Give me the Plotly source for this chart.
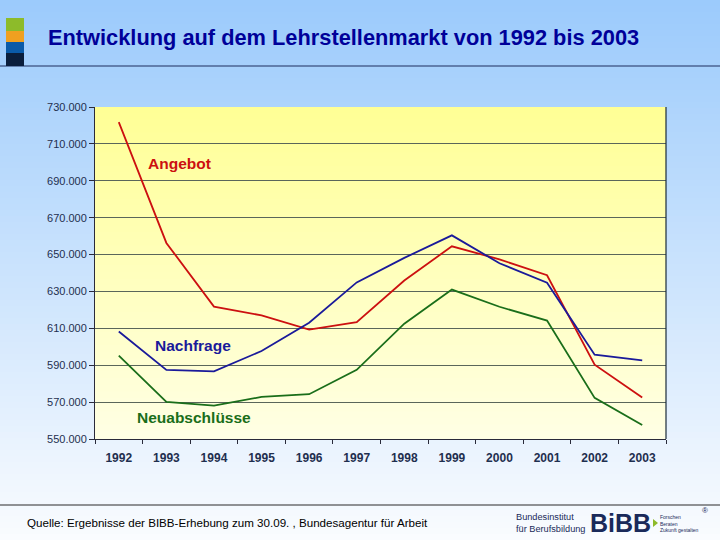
import plotly.graph_objects as go

years = ["1992", "1993", "1994", "1995", "1996", "1997", "1998", "1999", "2000", "2001", "2002", "2003"]
angebot = [721800, 656300, 621800, 617000, 609300, 613400, 635900, 654500, 647400, 638800, 590300, 572500]
nachfrage = [608300, 587500, 586700, 597700, 613000, 634900, 648200, 660400, 645300, 634700, 595700, 592600]
neuabschluesse = [595200, 570100, 568100, 572800, 574300, 587500, 612500, 631000, 621700, 614200, 572300, 557600]

y_ticks = [550000, 570000, 590000, 610000, 630000, 650000, 670000, 690000, 710000, 730000]
y_labels = ["550.000", "570.000", "590.000", "610.000", "630.000", "650.000", "670.000", "690.000", "710.000", "730.000"]

W, H = 720, 540
L, R, T, B = 95, 666, 107, 439


def px(x):
    return (x - L) / (R - L)


def py(y):
    return (B - y) / (B - T)


fig = go.Figure()
fig.add_trace(go.Scatter(x=years, y=angebot, mode="lines", line=dict(color="#CC1010", width=1.8), name="Angebot"))
fig.add_trace(go.Scatter(x=years, y=nachfrage, mode="lines", line=dict(color="#1A1A9A", width=1.8), name="Nachfrage"))
fig.add_trace(go.Scatter(x=years, y=neuabschluesse, mode="lines", line=dict(color="#1A6E1A", width=1.8), name="Neuabschlüsse"))

shapes = []
# slide background gradient (light blue -> white)
n = 90
for i in range(n):
    f = i / (n - 1)
    c0 = (156, 203, 252)
    c1 = (250, 252, 255)
    c = tuple(int(c0[k] + (c1[k] - c0[k]) * f) for k in range(3))
    ya = i * H / n
    yb = (i + 1) * H / n + 0.8
    shapes.append(dict(type="rect", xref="paper", yref="paper", layer="below",
                       x0=px(0), x1=px(W), y0=py(yb), y1=py(ya),
                       fillcolor="rgb(%d,%d,%d)" % c, line=dict(width=0)))
# plot area gradient (yellow)
m = 50
for i in range(m):
    f = i / (m - 1)
    c0 = (255, 255, 150)
    c1 = (255, 255, 228)
    c = tuple(int(c0[k] + (c1[k] - c0[k]) * f) for k in range(3))
    shapes.append(dict(type="rect", xref="paper", yref="paper", layer="below",
                       x0=0, x1=1, y0=1 - (i + 1) / m, y1=min(1, 1 - i / m + 0.003),
                       fillcolor="rgb(%d,%d,%d)" % c, line=dict(width=0)))

# header line and footer line
shapes.append(dict(type="line", xref="paper", yref="paper", x0=px(0), x1=px(W), y0=py(66), y1=py(66),
                   line=dict(color="#1F2F5F", width=1.2)))
shapes.append(dict(type="line", xref="paper", yref="paper", x0=px(0), x1=px(W), y0=py(505), y1=py(505),
                   line=dict(color="#2A2A2A", width=1.2)))
# logo squares
for (y0, y1, col) in [(18, 31, "#8DBB2A"), (31, 42, "#F0A020"), (42, 53, "#0A5AA8"), (53, 66, "#0A1E3C")]:
    shapes.append(dict(type="rect", xref="paper", yref="paper", x0=px(6), x1=px(24), y0=py(y1), y1=py(y0),
                       fillcolor=col, line=dict(width=0)))
# green arrow in BIBB logo
shapes.append(dict(type="path", xref="paper", yref="paper",
                   path="M %f,%f L %f,%f L %f,%f Z" % (px(653), py(519), px(653), py(527), px(658), py(523)),
                   fillcolor="#8DBB2A", line=dict(width=0)))
# right border of plot area
shapes.append(dict(type="line", xref="paper", yref="paper", x0=1, x1=1, y0=0, y1=1,
                   line=dict(color="#1A2A3A", width=1.2)))


def ann(text, x, y, size, color, family="Arial", align="left", xanchor="left"):
    return dict(text=text, xref="paper", yref="paper", x=px(x), y=py(y), xanchor=xanchor, yanchor="middle",
                align=align, showarrow=False, font=dict(family=family, size=size, color=color))


annotations = [
    ann("<b>Entwicklung auf dem Lehrstellenmarkt von 1992 bis 2003</b>", 46, 37, 21.8, "#000099"),
    ann("<b>Angebot</b>", 146, 163, 15.5, "#CC1010"),
    ann("<b>Nachfrage</b>", 153, 345, 15.5, "#1A1A9A"),
    ann("<b>Neuabschlüsse</b>", 135, 417, 15.5, "#1A6E1A"),
    ann("Quelle: Ergebnisse der BIBB-Erhebung zum 30.09. , Bundesagentur für Arbeit", 25, 522, 11.6, "#000000"),
    ann("Bundesinstitut<br>für Berufsbildung", 514, 523, 9.2, "#1A2A5A"),
    ann("<b>BiBB</b>", 588, 523, 25, "#1A2A5A"),
    ann("Forschen<br>Beraten<br>Zukunft gestalten", 658, 523, 5, "#1A2A5A"),
    ann("®", 705, 510, 8, "#1A2A5A", xanchor="center"),
]

fig.update_layout(
    width=W, height=H,
    margin=dict(l=L, r=W - R, t=T, b=H - B, pad=0),
    paper_bgcolor="#F5F9FF",
    plot_bgcolor="rgba(0,0,0,0)",
    showlegend=False,
    shapes=shapes,
    annotations=annotations,
    xaxis=dict(type="category", range=[-0.5, 11.5], showgrid=False, showline=True, linecolor="#2A2A3A",
               linewidth=1, ticks="outside", tickson="boundaries", ticklen=4, tickcolor="#2A2A3A",
               tickfont=dict(family="Arial", size=12, color="#1F2F4F"), fixedrange=True,
               tickprefix="<b>", ticksuffix="</b>", ticklabelstandoff=8),
    yaxis=dict(range=[550000, 730000], tickvals=y_ticks, ticktext=y_labels, showgrid=True,
               gridcolor="#5A665A", gridwidth=1, showline=True, linecolor="#2A2A3A", linewidth=1,
               ticks="outside", ticklen=5, tickcolor="#2A2A3A", zeroline=False,
               tickfont=dict(family="Arial", size=11, color="#1F2F4F"), fixedrange=True),
)

fig.write_html("out.html", config={"displayModeBar": False},
               post_script="document.body.style.margin='0';document.body.style.overflow='hidden';")
